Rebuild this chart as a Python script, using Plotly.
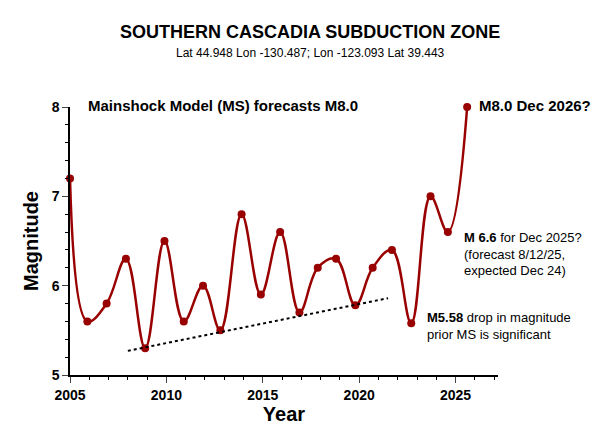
import plotly.graph_objects as go

# data
years = [2005, 2005.9, 2006.9, 2007.9, 2008.9, 2009.9, 2010.9, 2011.9, 2012.8, 2013.9,
         2014.9, 2015.9, 2016.9, 2017.85, 2018.8, 2019.8, 2020.7, 2021.7, 2022.7, 2023.7,
         2024.6, 2025.6]
mags = [7.2, 5.6, 5.8, 6.3, 5.3, 6.5, 5.6, 6.0, 5.5, 6.8,
        5.9, 6.6, 5.7, 6.2, 6.3, 5.78, 6.2, 6.4, 5.58, 7.0,
        6.6, 8.0]
trend_x = [2008, 2021.5]
trend_y = [5.27, 5.86]

fnt = "Liberation Sans, Arial, sans-serif"
red = "#990000"

fig = go.Figure()
fig.add_trace(go.Scatter(x=years, y=mags, mode="lines+markers", cliponaxis=False,
                         line=dict(color=red, width=2.5, shape="spline", smoothing=1.1),
                         marker=dict(color=red, size=8)))
# dotted trend line
fig.add_trace(go.Scatter(x=trend_x, y=trend_y, mode="lines",
                         line=dict(color="black", width=2, dash="dot")))

fig.update_layout(
    width=605, height=434, showlegend=False,
    plot_bgcolor="white", paper_bgcolor="white",
    margin=dict(l=62, r=115, t=99, b=67, autoexpand=False),
    font=dict(family=fnt, color="black"),
    xaxis=dict(range=[2005, 2027.2], tickvals=[2005, 2010, 2015, 2020, 2025],
               ticks="outside", ticklen=6, showgrid=False, zeroline=False, automargin=False,
               showline=True, linecolor="black", linewidth=1.5,
               tickfont=dict(size=14, family=fnt, weight="bold"),
               minor=dict(dtick=1, ticks="outside", ticklen=3, tickcolor="black"),
               title=dict(text="<b>Year</b>", font=dict(size=20), standoff=2)),
    yaxis=dict(range=[5, 8], dtick=1, ticks="outside", ticklen=6, showgrid=False,
               zeroline=False, showline=True, linecolor="black", linewidth=1.5, automargin=False,
               tickfont=dict(size=14, family=fnt, weight="bold"),
               minor=dict(dtick=0.2, ticks="outside", ticklen=3, tickcolor="black"),
               title=dict(text="<b>Magnitude</b>", font=dict(size=20), standoff=8)),
)

H = 434 - 99 - 67
W = 605 - 62 - 115

def pnote(xp, yp, text, size=12, anchor="left"):
    fig.add_annotation(x=(xp - 62) / W, y=(434 - 67 - yp) / H, xref="paper", yref="paper",
                       text=text, showarrow=False, xanchor=anchor, yanchor="middle",
                       font=dict(size=size, family=fnt, color="black"), align="left")

pnote(302, 24, "<b>SOUTHERN CASCADIA SUBDUCTION ZONE</b>", 18, "center")
pnote(302, 45, "Lat 44.948 Lon -130.487; Lon -123.093 Lat 39.443", 12, "center")
pnote(78, 97, "<b>Mainshock Model (MS) forecasts M8.0</b>", 15)
pnote(469, 97, "<b>M8.0 Dec 2026?</b>", 15)
pnote(454, 229, "<b>M 6.6</b> for Dec 2025?", 13)
pnote(454, 246, "(forecast 8/12/25,", 13)
pnote(454, 262, "expected Dec 24)", 13)
pnote(417, 309, "<b>M5.58</b> drop in magnitude", 13)
pnote(417, 326, "prior MS is significant", 13)

fig.write_html("out.html")
